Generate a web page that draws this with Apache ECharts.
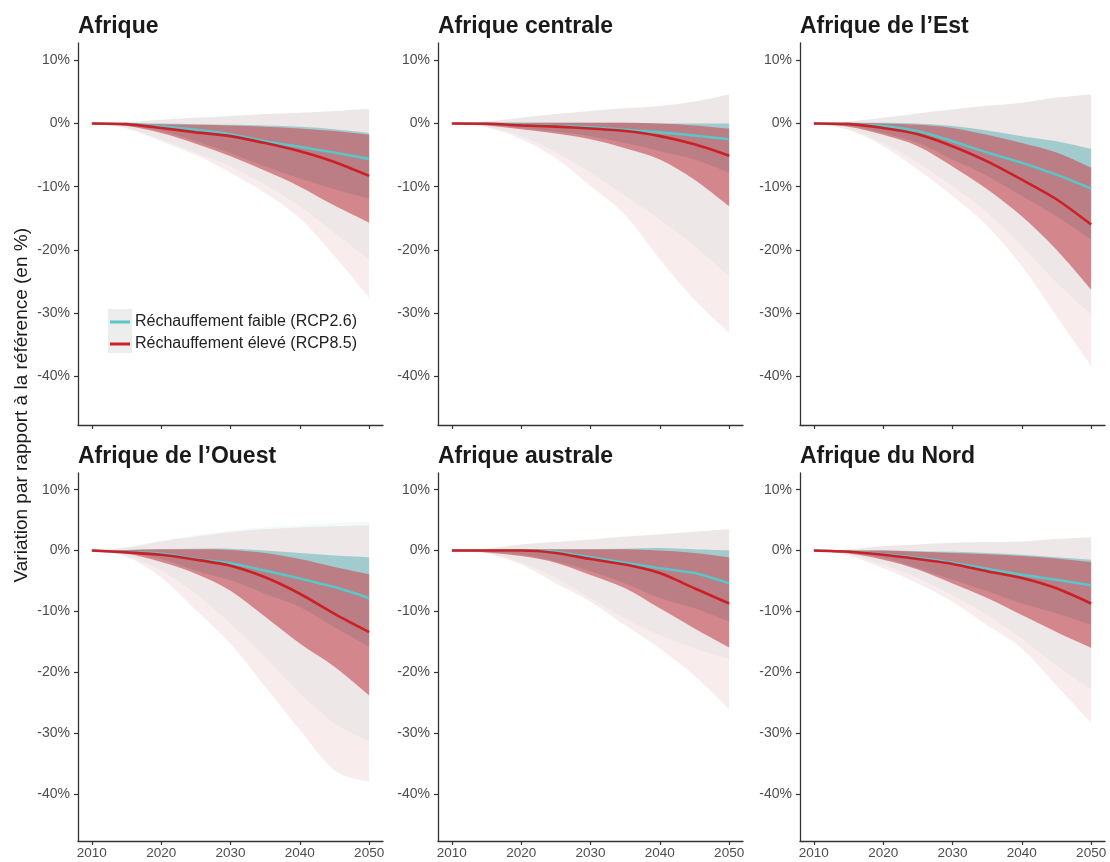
<!DOCTYPE html>
<html><head><meta charset="utf-8">
<script src="https://cdn.jsdelivr.net/npm/echarts@6/dist/echarts.min.js"></script>
<style>html,body{margin:0;padding:0;background:#fff}#c{width:1110px;height:862px}</style>
</head><body><div id="c"></div>
<script>
// ---------- DATA ----------
const years = [2010, 2015, 2020, 2025, 2030, 2035, 2040, 2045, 2050];
const xTicks = [2010, 2020, 2030, 2040, 2050];
const yTicks = [-40, -30, -20, -10, 0, 10];
const regionNames = ['Afrique', 'Afrique centrale', 'Afrique de l’Est', 'Afrique de l’Ouest', 'Afrique australe', 'Afrique du Nord'];
const scenarioNames = ['Réchauffement faible (RCP2.6)', 'Réchauffement élevé (RCP8.5)'];
const yAxisTitle = 'Variation par rapport à la référence (en %)';

// med = median, inLo/inHi = inner range, outLo/outHi = outer range (in %)
const afrique26 = {
  med:   [0, -0.1, -0.5, -1.0, -1.7, -2.8, -3.7, -4.6, -5.6],
  inHi:  [0, 0, 0, -0.1, -0.2, -0.3, -0.5, -0.9, -1.5],
  inLo:  [0, -0.3, -1.2, -2.8, -4.7, -6.8, -8.7, -10.4, -11.9],
  outHi: [0, 0.2, 0.6, 0.9, 1.2, 1.5, 1.7, 2.0, 2.3],
  outLo: [0, -0.7, -2.5, -4.6, -6.8, -9.7, -13.1, -17.3, -21.5]
};
const afrique85 = {
  med:   [0, -0.1, -0.7, -1.4, -2.0, -3.1, -4.4, -6.1, -8.3],
  inHi:  [0, 0, -0.1, -0.2, -0.3, -0.5, -0.8, -1.2, -1.8],
  inLo:  [0, -0.4, -1.5, -3.2, -5.2, -7.5, -10.0, -13.0, -15.7],
  outHi: [0, 0.2, 0.6, 0.9, 1.2, 1.5, 1.7, 2.0, 2.3],
  outLo: [0, -0.8, -2.8, -5.0, -7.8, -11.0, -15.0, -21.0, -27.6]
};
const centrale26 = {
  med:   [0, -0.05, -0.2, -0.4, -0.6, -1.0, -1.4, -1.9, -2.5],
  inHi:  [0, 0.1, 0.1, 0.1, 0.1, 0.1, 0, 0, 0],
  inLo:  [0, -0.2, -0.7, -1.3, -2.0, -3.1, -4.4, -5.7, -7.8],
  outHi: [0, 0.3, 0.9, 1.5, 2.0, 2.4, 2.7, 3.5, 4.6],
  outLo: [0, -0.5, -2.0, -4.5, -7.8, -11.5, -15.2, -19.4, -24.2]
};
const centrale85 = {
  med:   [0, -0.05, -0.3, -0.5, -0.8, -1.2, -2.0, -3.3, -5.1],
  inHi:  [0, 0.1, 0.1, 0.1, 0.1, 0.1, 0, -0.3, -0.8],
  inLo:  [0, -0.3, -0.9, -1.6, -2.5, -3.9, -5.7, -8.9, -13.1],
  outHi: [0, 0.3, 0.9, 1.5, 2.0, 2.4, 2.8, 3.5, 4.6],
  outLo: [0, -0.6, -2.5, -5.5, -9.9, -14.5, -21.5, -27.9, -33.1]
};
const est26 = {
  med:   [0, -0.1, -0.4, -1.2, -2.8, -4.6, -6.2, -8.1, -10.3],
  inHi:  [0, 0.1, 0.1, 0, -0.4, -1.1, -2.0, -2.8, -4.0],
  inLo:  [0, -0.4, -1.5, -3.1, -5.7, -8.3, -11.5, -14.7, -18.4],
  outHi: [0, 0.3, 0.9, 1.6, 2.2, 2.8, 3.3, 4.1, 4.6],
  outLo: [0, -0.9, -3.1, -6.2, -9.9, -14.1, -19.4, -25.2, -30.2]
};
const est85 = {
  med:   [0, -0.1, -0.7, -1.7, -3.6, -6.0, -8.9, -12.0, -16.0],
  inHi:  [0, 0.1, 0, -0.2, -0.7, -1.8, -3.1, -4.6, -7.0],
  inLo:  [0, -0.5, -1.8, -3.6, -6.8, -10.4, -14.7, -20.0, -26.3],
  outHi: [0, 0.3, 0.9, 1.6, 2.2, 2.8, 3.3, 4.1, 4.6],
  outLo: [0, -1.0, -3.6, -7.3, -11.5, -16.2, -22.6, -30.5, -38.4]
};
const ouest26 = {
  med:   [0, -0.2, -0.5, -1.4, -2.1, -3.3, -4.6, -6.0, -7.8],
  inHi:  [0, 0.1, 0.2, 0.3, 0.3, 0, -0.4, -0.8, -1.1],
  inLo:  [0, -0.4, -1.4, -3.3, -4.9, -7.1, -9.3, -12.6, -15.8],
  outHi: [0, 0.6, 1.6, 2.5, 3.3, 3.8, 4.1, 4.5, 4.8],
  outLo: [0, -0.8, -3.3, -7.1, -12.0, -17.5, -23.5, -28.4, -31.4]
};
const ouest85 = {
  med:   [0, -0.3, -0.7, -1.5, -2.5, -4.4, -7.1, -10.4, -13.4],
  inHi:  [0, 0.1, 0.2, 0.2, 0.1, -0.4, -1.4, -2.7, -3.9],
  inLo:  [0, -0.5, -1.9, -3.8, -6.6, -10.9, -15.3, -19.1, -23.8],
  outHi: [0, 0.5, 1.5, 2.3, 3.0, 3.5, 3.8, 4.0, 4.1],
  outLo: [0, -1.0, -4.4, -9.8, -15.3, -22.4, -29.5, -36.1, -38.0]
};
const australe26 = {
  med:   [0, 0, 0, -0.2, -1.1, -2.0, -2.9, -3.7, -5.4],
  inHi:  [0, 0.1, 0.2, 0.2, 0.2, 0.3, 0.4, 0.2, 0],
  inLo:  [0, -0.2, -0.7, -1.8, -3.4, -5.4, -7.8, -9.5, -11.7],
  outHi: [0, 0.3, 1.0, 1.4, 1.8, 2.3, 2.7, 3.1, 3.5],
  outLo: [0, -0.4, -2.0, -4.5, -7.8, -11.2, -13.9, -16.1, -17.8]
};
const australe85 = {
  med:   [0, 0, 0, -0.4, -1.4, -2.3, -3.7, -6.2, -8.7],
  inHi:  [0, 0.1, 0.2, 0.2, 0.2, 0.2, 0, -0.4, -1.1],
  inLo:  [0, -0.3, -0.9, -2.0, -4.0, -6.2, -9.5, -12.8, -15.9],
  outHi: [0, 0.3, 1.0, 1.4, 1.8, 2.3, 2.7, 3.1, 3.5],
  outLo: [0, -0.5, -2.3, -5.4, -8.4, -12.3, -16.1, -20.6, -26.1]
};
const nord26 = {
  med:   [0, -0.2, -0.6, -1.2, -2.0, -3.0, -4.0, -4.8, -5.7],
  inHi:  [0, 0, 0, -0.1, -0.2, -0.4, -0.7, -1.1, -1.5],
  inLo:  [0, -0.4, -1.2, -2.9, -4.8, -6.7, -8.7, -10.3, -12.2],
  outHi: [0, 0.2, 0.7, 1.0, 1.3, 1.4, 1.5, 1.9, 2.2],
  outLo: [0, -0.7, -2.3, -4.5, -7.3, -10.6, -14.5, -18.9, -22.8]
};
const nord85 = {
  med:   [0, -0.2, -0.7, -1.4, -2.2, -3.4, -4.5, -6.2, -8.7],
  inHi:  [0, 0, 0, -0.2, -0.4, -0.6, -0.9, -1.3, -1.9],
  inLo:  [0, -0.5, -1.5, -3.1, -5.4, -7.8, -10.6, -13.4, -16.0],
  outHi: [0, 0.2, 0.7, 1.0, 1.3, 1.4, 1.5, 1.9, 2.2],
  outLo: [0, -0.8, -2.9, -5.4, -8.4, -12.3, -16.1, -22.2, -28.3]
};
const panelData = [
  [afrique26, afrique85], [centrale26, centrale85], [est26, est85],
  [ouest26, ouest85], [australe26, australe85], [nord26, nord85]
];

// ---------- STYLE / LAYOUT ----------
const FONT = '"Liberation Sans", Arial, Helvetica, sans-serif';
const colLeft = [78, 438, 800];
const gridW = 305;
const rowTop = [43, 473];
const rowH = [382, 368];
const lineColors = ['#5ac6c8', '#cc2027'];
const innerFill = ['rgba(100,180,186,0.55)', 'rgba(198,88,96,0.67)'];
const outerFill = ['rgba(95,185,190,0.08)', 'rgba(184,30,40,0.085)'];
const SMOOTH = 0.25;
const T = 1 / 6; // curve tension for band edges

// smooth edge (Catmull-Rom as cubic bezier) through pixel points
function edgePath(pts, startCmd) {
  let d = startCmd + pts[0][0] + ' ' + pts[0][1];
  const n = pts.length;
  for (let i = 0; i < n - 1; i++) {
    const p0 = pts[Math.max(i - 1, 0)], p1 = pts[i], p2 = pts[i + 1], p3 = pts[Math.min(i + 2, n - 1)];
    const c1 = [p1[0] + (p2[0] - p0[0]) * T, p1[1] + (p2[1] - p0[1]) * T];
    const c2 = [p2[0] - (p3[0] - p1[0]) * T, p2[1] - (p3[1] - p1[1]) * T];
    d += ' C' + c1[0] + ' ' + c1[1] + ' ' + c2[0] + ' ' + c2[1] + ' ' + p2[0] + ' ' + p2[1];
  }
  return d;
}
function makeBandRender(fill) {
  return function (params, api) {
    if (params.dataIndexInside !== 0) return null;
    const n = params.dataInsideLength;
    const top = [], bot = [];
    for (let i = 0; i < n; i++) {
      top.push(api.coord([api.value(0, i), api.value(2, i)]));
      bot.push(api.coord([api.value(0, i), api.value(1, i)]));
    }
    bot.reverse();
    const d = edgePath(top, 'M') + ' ' + edgePath(bot, 'L') + ' Z';
    return { type: 'path', shape: { pathData: d }, style: { fill: fill, stroke: null }, silent: true };
  };
}

const grids = [], xAxes = [], yAxes = [], series = [], titles = [];
panelData.forEach((pd, gi) => {
  const row = Math.floor(gi / 3), col = gi % 3;
  grids.push({ left: colLeft[col], top: rowTop[row], width: gridW, height: rowH[row], containLabel: false });
  xAxes.push({
    gridIndex: gi, type: 'value', min: 2008, max: 2052,
    axisLine: { show: true, onZero: false, lineStyle: { color: '#333', width: 1.3 } },
    axisTick: { show: true, length: 4, customValues: xTicks, lineStyle: { color: '#333', width: 1.2 } },
    axisLabel: { show: row === 1, customValues: xTicks, formatter: v => String(v), color: '#4d4d4d', fontSize: 13.5, fontFamily: FONT, margin: 5 },
    splitLine: { show: false }
  });
  yAxes.push({
    gridIndex: gi, type: 'value', min: -47.75, max: 12.75,
    axisLine: { show: true, onZero: false, lineStyle: { color: '#333', width: 1.3 } },
    axisTick: { show: true, length: 4, customValues: yTicks, lineStyle: { color: '#333', width: 1.2 } },
    axisLabel: { customValues: yTicks, formatter: v => v + '%', color: '#4d4d4d', fontSize: 14, fontFamily: FONT, margin: 8 },
    splitLine: { show: false }
  });
  titles.push({
    text: regionNames[gi], left: colLeft[col] - 5, top: rowTop[row] - 33,
    textStyle: { fontSize: 23, fontWeight: 'bold', color: '#1a1a1a', fontFamily: FONT }
  });

  const band = (lo, hi, fill, z) => ({
    type: 'custom', xAxisIndex: gi, yAxisIndex: gi, silent: true, z: z, clip: true,
    data: years.map((y, i) => [y, lo[i], hi[i]]),
    encode: { x: 0, y: [1, 2] },
    renderItem: makeBandRender(fill)
  });
  pd.forEach((s, si) => series.push(band(s.outLo, s.outHi, outerFill[si], 1)));
  pd.forEach((s, si) => series.push(band(s.inLo, s.inHi, innerFill[si], 2)));
  pd.forEach((s, si) => series.push({
    type: 'line', name: scenarioNames[si], xAxisIndex: gi, yAxisIndex: gi,
    data: years.map((y, i) => [y, s.med[i]]), symbol: 'none', smooth: SMOOTH, silent: true,
    color: lineColors[si], itemStyle: { color: lineColors[si] },
    lineStyle: { color: lineColors[si], width: 2.6 }, z: 3
  }));
});

const chart = echarts.init(document.getElementById('c'), null, { renderer: 'canvas' });
chart.setOption({
  animation: false,
  backgroundColor: '#fff',
  title: titles,
  grid: grids,
  xAxis: xAxes,
  yAxis: yAxes,
  legend: {
    data: scenarioNames, orient: 'vertical', left: 110, top: 314, padding: 0,
    icon: 'rect', itemWidth: 20, itemHeight: 3, itemGap: 6,
    textStyle: { fontSize: 16, color: '#222', fontFamily: FONT, lineHeight: 16 },
    selectedMode: false
  },
  graphic: [
    { type: 'rect', left: 108, top: 309, shape: { width: 24, height: 44 }, style: { fill: '#eeeded' }, z: 3, silent: true },
    { type: 'text', left: 12, top: 228, rotation: Math.PI / 2,
      style: { text: yAxisTitle, fontSize: 19, fill: '#1a1a1a', fontFamily: FONT }, silent: true }
  ],
  series: series
});
</script></body></html>
